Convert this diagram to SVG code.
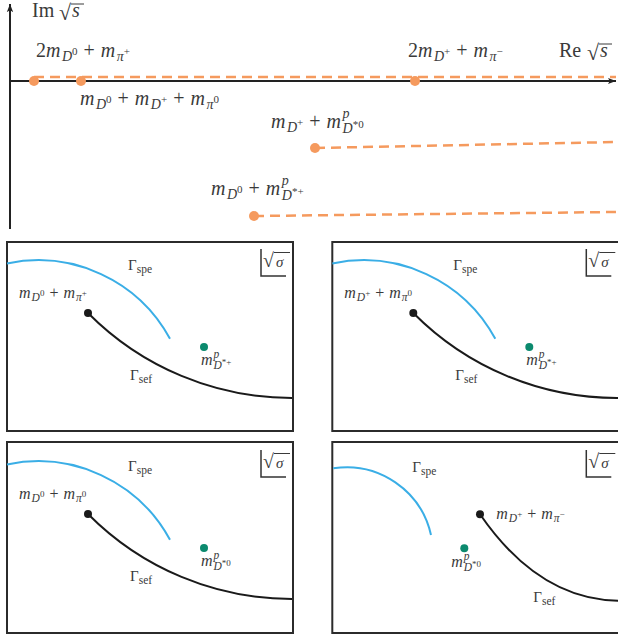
<svg xmlns="http://www.w3.org/2000/svg" width="618" height="637" viewBox="0 0 618 637">
<defs>
<style>
.t{font-family:"Liberation Serif","Times New Roman",serif;fill:#3a3a3a}
.L{font-size:20px}
.P{font-size:15px}
.Q{font-size:16px}
.i{font-style:italic}
.L .sb{font-size:14px}
.L .ss{font-size:11px}
.P .sb,.Q .sb{font-size:11.5px}
.P .ss,.Q .ss{font-size:9px}
.box{fill:none;stroke:#2b2b2b;stroke-width:2}
.ax{stroke:#222;stroke-width:2;fill:none}
.dash{stroke:#F59A5E;stroke-width:2.5;stroke-dasharray:10 6;fill:none}
.od{fill:#F59A5E}
.spe{fill:none;stroke:#3AAEE6;stroke-width:2}
.sef{fill:none;stroke:#1a1a1a;stroke-width:2}
.bd{fill:#1a1a1a}
.gd{fill:#0B8A6E}
.mk{stroke:#333;stroke-width:1.5;fill:none}
.vb{stroke:#3a3a3a;stroke-width:1}
</style>
<marker id="arr" viewBox="0 0 10 10" refX="9" refY="5" markerWidth="9" markerHeight="9" orient="auto" markerUnits="userSpaceOnUse">
<path d="M0,1.5 L9,5 L0,8.5 L2,5 Z" fill="#222"/>
</marker>
</defs>

<g id="axes">
<path class="ax" d="M10,81 L616,81" marker-end="url(#arr)"/>
<path class="ax" d="M10,229 L10,4" marker-end="url(#arr)"/>
<text class="t L" x="32" y="17">Im</text>
<text class="t" x="59" y="20" font-size="22">√</text>
<text class="t L i" x="72" y="17">s</text>
<line class="vb" x1="71" y1="4" x2="84" y2="4"/>
<text class="t L" x="559" y="57">Re</text>
<text class="t" x="587" y="60" font-size="22">√</text>
<text class="t L i" x="600" y="57">s</text>
<line class="vb" x1="599" y1="44" x2="612" y2="44"/>
</g>

<g id="connectors">
<path class="dash" d="M34,77 L616,77"/>
<path class="dash" d="M315,148 L616,142"/>
<path class="dash" d="M254,216 L616,212"/>
</g>

<g id="thr1">
<circle class="od" cx="34" cy="81" r="5"/>
<text class="t L" x="36" y="57">2<tspan class="i">m</tspan><tspan class="i sb" dx="1.5" dy="4">D</tspan><tspan class="ss" dy="-6">0</tspan><tspan dx="6" dy="2">+</tspan><tspan class="i" dx="6">m</tspan><tspan class="i sb" dx="1.5" dy="4">π</tspan><tspan class="ss" dy="-6">+</tspan></text>
</g>
<g id="thr2">
<circle class="od" cx="81" cy="81" r="5"/>
<text class="t L" x="80" y="105"><tspan class="i">m</tspan><tspan class="i sb" dx="1.5" dy="4">D</tspan><tspan class="ss" dy="-6">0</tspan><tspan dx="6" dy="2">+</tspan><tspan class="i" dx="6">m</tspan><tspan class="i sb" dx="1.5" dy="4">D</tspan><tspan class="ss" dy="-6">+</tspan><tspan dx="6" dy="2">+</tspan><tspan class="i" dx="6">m</tspan><tspan class="i sb" dx="1.5" dy="4">π</tspan><tspan class="ss" dy="-6">0</tspan></text>
</g>
<g id="thr3">
<circle class="od" cx="415" cy="81" r="5"/>
<text class="t L" x="408" y="57">2<tspan class="i">m</tspan><tspan class="i sb" dx="1.5" dy="4">D</tspan><tspan class="ss" dy="-6">+</tspan><tspan dx="6" dy="2">+</tspan><tspan class="i" dx="6">m</tspan><tspan class="i sb" dx="1.5" dy="4">π</tspan><tspan class="ss" dy="-6">−</tspan></text>
</g>
<g id="thr4">
<circle class="od" cx="315" cy="148" r="5"/>
<text class="t L" x="271" y="128"><tspan class="i">m</tspan><tspan class="i sb" dx="1.5" dy="4">D</tspan><tspan class="ss" dy="-6">+</tspan><tspan dx="6" dy="2">+</tspan><tspan class="i" dx="6">m</tspan><tspan class="i sb" dx="1.5" dy="-10">p</tspan><tspan class="i sb" dx="-7" dy="15">D</tspan><tspan class="ss" dy="-5">*0</tspan></text>
</g>
<g id="thr5">
<circle class="od" cx="254" cy="216" r="5"/>
<text class="t L" x="211" y="195"><tspan class="i">m</tspan><tspan class="i sb" dx="1.5" dy="4">D</tspan><tspan class="ss" dy="-6">0</tspan><tspan dx="6" dy="2">+</tspan><tspan class="i" dx="6">m</tspan><tspan class="i sb" dx="1.5" dy="-10">p</tspan><tspan class="i sb" dx="-7" dy="15">D</tspan><tspan class="ss" dy="-5">*+</tspan></text>
</g>

<g id="panel1">
<rect class="box" x="7" y="242" width="286" height="189"/>
<path class="mk" d="M261,249 V276 H286"/>
<text class="t" x="263" y="267" font-size="20">√</text>
<text class="t P i" x="276" y="267">σ</text>
<line class="vb" x1="274" y1="252.5" x2="290" y2="252.5"/>
<path class="spe" d="M7,263.5 A150,150 0 0 1 170,338.8"/>
<path class="sef" d="M88,313 A287,287 0 0 0 292,398"/>
<circle class="bd" cx="88" cy="313" r="4"/>
<circle class="gd" cx="204" cy="347" r="4"/>
<text class="t P" x="128" y="270">Γ<tspan class="sb" dy="3">spe</tspan></text>
<text class="t P" x="130" y="380">Γ<tspan class="sb" dy="3">sef</tspan></text>
<text class="t Q" x="19" y="298"><tspan class="i">m</tspan><tspan class="i sb" dx="1" dy="3">D</tspan><tspan class="ss" dy="-5">0</tspan><tspan dx="5" dy="2">+</tspan><tspan class="i" dx="5">m</tspan><tspan class="i sb" dx="1" dy="3">π</tspan><tspan class="ss" dy="-5">+</tspan></text>
<text class="t Q" x="201" y="365"><tspan class="i">m</tspan><tspan class="i sb" dx="1" dy="-7">p</tspan><tspan class="i sb" dx="-5.8" dy="11">D</tspan><tspan class="ss" dy="-4">*+</tspan></text>
</g>

<g id="panel2" transform="translate(325.3,0)">
<rect class="box" x="7" y="242" width="290" height="189"/>
<path class="mk" d="M261,249 V276 H286"/>
<text class="t" x="263" y="267" font-size="20">√</text>
<text class="t P i" x="276" y="267">σ</text>
<line class="vb" x1="274" y1="252.5" x2="290" y2="252.5"/>
<path class="spe" d="M7,263.5 A150,150 0 0 1 170,338.8"/>
<path class="sef" d="M88,313 A287,287 0 0 0 293,398"/>
<circle class="bd" cx="88" cy="313" r="4"/>
<circle class="gd" cx="204" cy="347" r="4"/>
<text class="t P" x="128" y="270">Γ<tspan class="sb" dy="3">spe</tspan></text>
<text class="t P" x="130" y="380">Γ<tspan class="sb" dy="3">sef</tspan></text>
<text class="t Q" x="19" y="298"><tspan class="i">m</tspan><tspan class="i sb" dx="1" dy="3">D</tspan><tspan class="ss" dy="-5">+</tspan><tspan dx="5" dy="2">+</tspan><tspan class="i" dx="5">m</tspan><tspan class="i sb" dx="1" dy="3">π</tspan><tspan class="ss" dy="-5">0</tspan></text>
<text class="t Q" x="201" y="365"><tspan class="i">m</tspan><tspan class="i sb" dx="1" dy="-7">p</tspan><tspan class="i sb" dx="-5.8" dy="11">D</tspan><tspan class="ss" dy="-4">*+</tspan></text>
</g>

<g id="panel3" transform="translate(0,201)">
<rect class="box" x="7" y="241" width="286" height="191"/>
<path class="mk" d="M261,249 V276 H286"/>
<text class="t" x="263" y="267" font-size="20">√</text>
<text class="t P i" x="276" y="267">σ</text>
<line class="vb" x1="274" y1="252.5" x2="290" y2="252.5"/>
<path class="spe" d="M7,263.5 A150,150 0 0 1 170,338.8"/>
<path class="sef" d="M88,313 A287,287 0 0 0 292,398"/>
<circle class="bd" cx="88" cy="313" r="4"/>
<circle class="gd" cx="204" cy="347" r="4"/>
<text class="t P" x="128" y="270">Γ<tspan class="sb" dy="3">spe</tspan></text>
<text class="t P" x="130" y="380">Γ<tspan class="sb" dy="3">sef</tspan></text>
<text class="t Q" x="19" y="298"><tspan class="i">m</tspan><tspan class="i sb" dx="1" dy="3">D</tspan><tspan class="ss" dy="-5">0</tspan><tspan dx="5" dy="2">+</tspan><tspan class="i" dx="5">m</tspan><tspan class="i sb" dx="1" dy="3">π</tspan><tspan class="ss" dy="-5">0</tspan></text>
<text class="t Q" x="201" y="365"><tspan class="i">m</tspan><tspan class="i sb" dx="1" dy="-7">p</tspan><tspan class="i sb" dx="-5.8" dy="11">D</tspan><tspan class="ss" dy="-4">*0</tspan></text>
</g>

<g id="panel4" transform="translate(325.3,201)">
<rect class="box" x="7" y="241" width="290" height="191"/>
<path class="mk" d="M261,249 V276 H286"/>
<text class="t" x="263" y="267" font-size="20">√</text>
<text class="t P i" x="276" y="267">σ</text>
<line class="vb" x1="274" y1="252.5" x2="290" y2="252.5"/>
<path class="spe" d="M8,267.3 A86.5,86.5 0 0 1 105.7,334"/>
<path class="sef" d="M154.7,313.3 C189.7,364 234.7,399 293,399.7"/>
<circle class="bd" cx="154.7" cy="313.3" r="4"/>
<circle class="gd" cx="139" cy="347.3" r="4"/>
<text class="t P" x="87" y="271">Γ<tspan class="sb" dy="3">spe</tspan></text>
<text class="t P" x="208" y="401">Γ<tspan class="sb" dy="3">sef</tspan></text>
<text class="t Q" x="171" y="318"><tspan class="i">m</tspan><tspan class="i sb" dx="1" dy="3">D</tspan><tspan class="ss" dy="-5">+</tspan><tspan dx="5" dy="2">+</tspan><tspan class="i" dx="5">m</tspan><tspan class="i sb" dx="1" dy="3">π</tspan><tspan class="ss" dy="-5">−</tspan></text>
<text class="t Q" x="126" y="366"><tspan class="i">m</tspan><tspan class="i sb" dx="1" dy="-7">p</tspan><tspan class="i sb" dx="-5.8" dy="11">D</tspan><tspan class="ss" dy="-4">*0</tspan></text>
</g>
</svg>
